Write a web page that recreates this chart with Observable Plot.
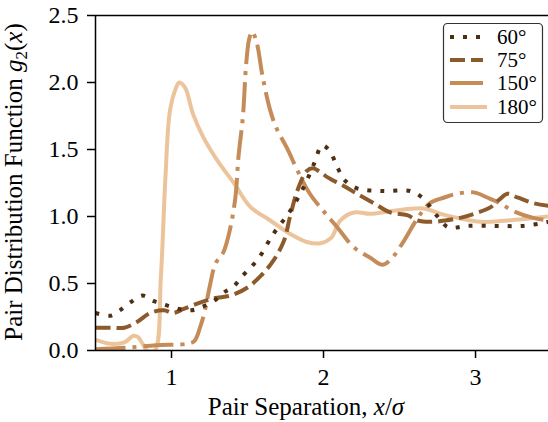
<!DOCTYPE html>
<html>
<head>
<meta charset="utf-8">
<script src="https://cdn.jsdelivr.net/npm/d3@7"></script>
<script src="https://cdn.jsdelivr.net/npm/@observablehq/plot@0.6"></script>
<style>
  html, body { margin: 0; padding: 0; background: white; overflow: hidden; }
  #chart { width: 548px; height: 422px; }
  #chart svg text { font-family: 'Liberation Serif', 'DejaVu Serif', serif; }
</style>
</head>
<body>
<div id="chart"></div>
<script>
// ---- data ----
const labels = ["60°", "75°", "150°", "180°"];
const colors = ["#4d2f13", "#8d5a2b", "#c58c5a", "#ecc49c"];
const dashes = ["4,9", "15,6", "30,7,4,7", null];

const x60 = [0.5,0.6,0.66,0.73,0.81,0.88,0.96,1.05,1.13,1.21,1.28,1.34,1.41,1.47,1.53,1.58,1.67,1.78,1.87,1.94,1.99,2.04,2.09,2.14,2.22,2.39,2.57,2.65,2.75,2.82,2.95,3.14,3.32,3.48];
const y60 = [0.28,0.26,0.30,0.36,0.41,0.37,0.34,0.31,0.30,0.33,0.37,0.43,0.48,0.56,0.63,0.70,0.87,1.04,1.22,1.40,1.53,1.49,1.37,1.27,1.21,1.19,1.19,1.14,1.0,0.92,0.93,0.93,0.93,0.96];

const x75 = [0.5,0.6,0.69,0.77,0.86,0.95,1.01,1.08,1.17,1.28,1.39,1.50,1.59,1.67,1.74,1.78,1.83,1.89,1.93,1.98,2.03,2.13,2.22,2.33,2.44,2.55,2.62,2.70,2.80,2.90,2.99,3.10,3.16,3.21,3.28,3.38,3.48];
const y75 = [0.17,0.17,0.17,0.21,0.28,0.30,0.28,0.31,0.35,0.39,0.41,0.47,0.56,0.67,0.82,1.00,1.20,1.34,1.36,1.33,1.29,1.23,1.17,1.10,1.03,1.01,0.97,0.96,0.97,0.99,1.02,1.07,1.13,1.17,1.14,1.10,1.08];

const x150 = [0.5,0.7,0.9,1.1,1.15,1.19,1.22,1.25,1.29,1.34,1.38,1.42,1.44,1.47,1.49,1.51,1.53,1.56,1.60,1.65,1.69,1.76,1.83,1.91,2.0,2.09,2.20,2.31,2.39,2.45,2.53,2.62,2.70,2.79,2.88,2.99,3.08,3.16,3.25,3.38,3.48];
const y150 = [0.01,0.02,0.04,0.05,0.07,0.18,0.30,0.47,0.65,0.73,0.88,1.14,1.44,1.75,2.12,2.32,2.38,2.30,2.04,1.79,1.66,1.51,1.34,1.17,1.04,0.92,0.77,0.69,0.64,0.69,0.82,0.99,1.10,1.14,1.17,1.18,1.14,1.10,1.04,0.99,0.97];

const x180 = [0.5,0.6,0.69,0.75,0.78,0.81,0.84,0.89,0.93,0.96,0.99,1.03,1.05,1.09,1.14,1.21,1.30,1.41,1.52,1.65,1.78,1.89,1.98,2.05,2.11,2.20,2.31,2.44,2.66,2.77,2.88,3.03,3.21,3.48];
const y180 = [0.08,0.05,0.06,0.11,0.10,0.05,0.0,0.0,0.55,1.29,1.79,1.96,2.0,1.96,1.77,1.59,1.42,1.25,1.07,0.97,0.87,0.81,0.80,0.84,0.97,1.03,1.02,1.04,1.06,1.02,0.99,0.96,0.97,1.0];

const xTicks = [1, 2, 3];
const yTicks = [0, 0.5, 1.0, 1.5, 2.0, 2.5];

const series = [
  {xs: x60, ys: y60},
  {xs: x75, ys: y75},
  {xs: x150, ys: y150},
  {xs: x180, ys: y180}
];
const rows = series.flatMap((s, i) => s.xs.map((x, j) => ({x, y: s.ys[j], k: labels[i]})));

const FONT = "'Liberation Serif', 'DejaVu Serif', serif";

const lineMarks = labels.map((lab, i) =>
  Plot.line(rows.filter(d => d.k === lab), {
    x: "x", y: "y", stroke: colors[i], strokeWidth: 4,
    strokeDasharray: dashes[i] ?? undefined, strokeLinecap: "butt",
    curve: "catmull-rom", clip: true
  })
);

const chart = Plot.plot({
  width: 548, height: 422,
  marginLeft: 95, marginRight: 0, marginTop: 15, marginBottom: 72,
  x: {domain: [0.5, 3.48]},
  y: {domain: [0, 2.5]},
  style: {fontFamily: FONT, fontSize: "24px", color: "black", background: "white", overflow: "visible"},
  marks: [
    ...lineMarks.slice().reverse(),
    Plot.ruleY([0], {strokeWidth: 1.5}),
    Plot.ruleY([2.5], {strokeWidth: 1.5}),
    Plot.ruleX([0.5], {strokeWidth: 1.5}),
    Plot.axisX({ticks: xTicks, tickFormat: d3.format("d"), tickSize: 8, tickPadding: 9, strokeWidth: 1.5, label: null, fontSize: 24}),
    Plot.axisY({ticks: yTicks, tickFormat: d3.format(".1f"), tickSize: 8, tickPadding: 9, strokeWidth: 1.5, label: null, fontSize: 24})
  ]
});
document.getElementById("chart").appendChild(chart);

const svg = d3.select(chart);

// x label
const xl = svg.append("text")
  .attr("x", 306).attr("y", 415).attr("text-anchor", "middle")
  .attr("font-size", 25).attr("fill", "black");
xl.append("tspan").text("Pair Separation, ");
xl.append("tspan").attr("font-style", "italic").text("x");
xl.append("tspan").text("/");
xl.append("tspan").attr("font-style", "italic").text("σ");

// y label
const yl = svg.append("text")
  .attr("transform", "translate(22,182) rotate(-90)").attr("text-anchor", "middle")
  .attr("font-size", 25).attr("fill", "black");
yl.append("tspan").text("Pair Distribution Function ");
yl.append("tspan").attr("font-style", "italic").text("g");
yl.append("tspan").attr("font-size", 17).attr("dy", 5).text("2");
yl.append("tspan").attr("dy", -5).text("(");
yl.append("tspan").attr("font-style", "italic").text("x");
yl.append("tspan").text(")");

// legend
const lg = svg.append("g");
lg.append("rect").attr("x", 443.5).attr("y", 23.5).attr("width", 99).attr("height", 99)
  .attr("rx", 4).attr("fill", "white").attr("stroke", "#333").attr("stroke-width", 1.2);
const rowY = [37, 60, 83, 107];
labels.forEach((lab, i) => {
  lg.append("line").attr("x1", 450).attr("x2", i === 3 ? 487 : 483)
    .attr("y1", rowY[i]).attr("y2", rowY[i])
    .attr("stroke", colors[i]).attr("stroke-width", 4)
    .attr("stroke-dasharray", i === 2 ? null : dashes[i]);
  lg.append("text").attr("x", 497).attr("y", rowY[i] + 7)
    .attr("text-anchor", "start")
    .attr("font-size", 21).attr("fill", "black").text(lab);
});
</script>
</body>
</html>
